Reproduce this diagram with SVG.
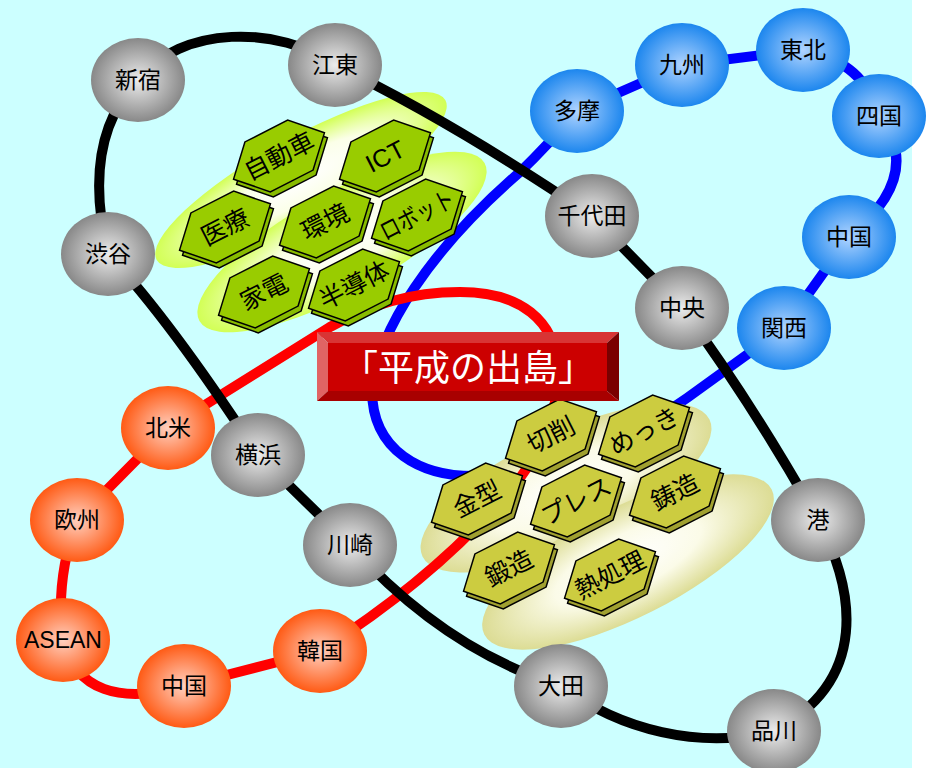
<svg xmlns="http://www.w3.org/2000/svg" xmlns:xlink="http://www.w3.org/1999/xlink" width="928" height="768" viewBox="0 0 928 768">
<style>
.ln{fill:none;stroke-width:10;stroke-linejoin:round;stroke-linecap:round}
.nt{font-family:"Liberation Sans","Noto Sans CJK JP",sans-serif;font-size:23px;fill:#000;text-anchor:middle}
.ht{font-family:"Liberation Sans","Noto Sans CJK JP",sans-serif;font-size:25px;fill:#000;text-anchor:middle}
.gT{fill:#99cc00;stroke:#000;stroke-width:1.5}
.gS{fill:#88bb00;stroke:#000;stroke-width:1.5}
.yT{fill:#cccc40;stroke:#000;stroke-width:1.5}
.yS{fill:#a0a030;stroke:#000;stroke-width:1.5}
.g{fill:url(#gG)}
.b{fill:url(#gB)}
.r{fill:url(#gR)}
</style>
<defs>
<radialGradient id="gG" cx="50%" cy="50%" r="50%"><stop offset="0" stop-color="#ececec"/><stop offset="1" stop-color="#888888"/></radialGradient>
<radialGradient id="gB" cx="50%" cy="50%" r="50%"><stop offset="0" stop-color="#b0d4ff"/><stop offset="1" stop-color="#1c86ee"/></radialGradient>
<radialGradient id="gR" cx="50%" cy="50%" r="50%"><stop offset="0" stop-color="#ffd0c0"/><stop offset="1" stop-color="#ff5a14"/></radialGradient>
<radialGradient id="eG" cx="50%" cy="50%" r="50%"><stop offset="0" stop-color="#ffffff"/><stop offset="0.5" stop-color="#fbffe8"/><stop offset="1" stop-color="#d2ff55"/></radialGradient>
<radialGradient id="eY" cx="50%" cy="50%" r="50%"><stop offset="0" stop-color="#ffffff"/><stop offset="0.5" stop-color="#fbfbe8"/><stop offset="1" stop-color="#dcdc94"/></radialGradient>
<polygon id="hx" points="-51,0 -24,-28 24,-28 51,0 24,28 -24,28" transform="rotate(-27)"/>
</defs>
<rect x="0" y="0" width="928" height="768" fill="#ffffff"/>
<rect x="0" y="0" width="912" height="768" fill="#ccffff"/>

<g id="connectors">
<path id="line-blue" class="ln" stroke="#0000ff" d="M 577 111 L 682 65 L 803 50 Q 865 62 879 116 Q 925 175 849 237 L 784 328 L 687 398 C 620 445 540 474 480 476 C 420 478 372 450 372 390 C 378 330 430 250 520 172 Q 548 145 577 111 Z"/>
</g>

<g id="highlights">
<ellipse cx="301" cy="180" rx="165" ry="42" transform="rotate(-29 301 180)" fill="url(#eG)"/>
<ellipse cx="342" cy="242" rx="163" ry="50" transform="rotate(-29 342 242)" fill="url(#eG)"/>
<ellipse cx="566" cy="488" rx="159" ry="55" transform="rotate(-25.5 566 488)" fill="url(#eY)"/>
<ellipse cx="628" cy="562" rx="161" ry="55" transform="rotate(-26.8 628 562)" fill="url(#eY)"/>
</g>

<g id="connectors2">
<path id="line-red" class="ln" stroke="#ff0000" d="M 320 651 C 400 600 470 540 520 478 C 545 445 560 400 558 370 C 556 320 520 292 460 292 C 410 292 370 305 330 327 L 168 428 L 77 520 Q 55 580 63 640 C 75 690 120 705 184 686 Z"/>
<path id="line-black" class="ln" stroke="#000000" d="M 138 80 C 180 25 280 25 335 65 Q 450 120 592 216 L 682 308 Q 750 400 818 520 C 855 590 870 680 774 731 C 700 750 620 730 561 686 Q 445 650 350 545 L 258 455 Q 170 320 108 254 C 95 200 90 130 138 80 Z"/>
</g>

<g id="hex-jidousha" transform="translate(279,156)"><use xlink:href="#hx" class="gS" x="3" y="5"/><use xlink:href="#hx" class="gT"/><text class="ht" transform="rotate(-27)" y="9">自動車</text></g>
<g id="hex-ict" transform="translate(385,156)"><use xlink:href="#hx" class="gS" x="3" y="5"/><use xlink:href="#hx" class="gT"/><text class="ht" transform="rotate(-27)" y="9">ICT</text></g>
<g id="hex-iryou" transform="translate(225,227)"><use xlink:href="#hx" class="gS" x="3" y="5"/><use xlink:href="#hx" class="gT"/><text class="ht" transform="rotate(-27)" y="9">医療</text></g>
<g id="hex-kankyou" transform="translate(325,222)"><use xlink:href="#hx" class="gS" x="3" y="5"/><use xlink:href="#hx" class="gT"/><text class="ht" transform="rotate(-27)" y="9">環境</text></g>
<g id="hex-robot" transform="translate(417,215)"><use xlink:href="#hx" class="gS" x="3" y="5"/><use xlink:href="#hx" class="gT"/><text class="ht" transform="rotate(-27)" y="9" textLength="80" lengthAdjust="spacingAndGlyphs">ロボット</text></g>
<g id="hex-kaden" transform="translate(264,292)"><use xlink:href="#hx" class="gS" x="3" y="5"/><use xlink:href="#hx" class="gT"/><text class="ht" transform="rotate(-27)" y="9">家電</text></g>
<g id="hex-handoutai" transform="translate(354,285)"><use xlink:href="#hx" class="gS" x="3" y="5"/><use xlink:href="#hx" class="gT"/><text class="ht" transform="rotate(-27)" y="9">半導体</text></g>

<g id="hex-sessaku" transform="translate(551,435)"><use xlink:href="#hx" class="yS" x="3" y="5"/><use xlink:href="#hx" class="yT"/><text class="ht" transform="rotate(-27)" y="9">切削</text></g>
<g id="hex-mekki" transform="translate(644,431)"><use xlink:href="#hx" class="yS" x="3" y="5"/><use xlink:href="#hx" class="yT"/><text class="ht" transform="rotate(-27)" y="9">めっき</text></g>
<g id="hex-kanagata" transform="translate(477,499)"><use xlink:href="#hx" class="yS" x="3" y="5"/><use xlink:href="#hx" class="yT"/><text class="ht" transform="rotate(-27)" y="9">金型</text></g>
<g id="hex-press" transform="translate(576,501)"><use xlink:href="#hx" class="yS" x="3" y="5"/><use xlink:href="#hx" class="yT"/><text class="ht" transform="rotate(-27)" y="9">プレス</text></g>
<g id="hex-chuzou" transform="translate(675,492)"><use xlink:href="#hx" class="yS" x="3" y="5"/><use xlink:href="#hx" class="yT"/><text class="ht" transform="rotate(-27)" y="9">鋳造</text></g>
<g id="hex-tanzou" transform="translate(509,568)"><use xlink:href="#hx" class="yS" x="3" y="5"/><use xlink:href="#hx" class="yT"/><text class="ht" transform="rotate(-27)" y="9">鍛造</text></g>
<g id="hex-netsushori" transform="translate(610,575)"><use xlink:href="#hx" class="yS" x="3" y="5"/><use xlink:href="#hx" class="yT"/><text class="ht" transform="rotate(-27)" y="9">熱処理</text></g>

<g id="n-shinjuku"><ellipse class="g" cx="138" cy="80" rx="47" ry="42"/><text class="nt" x="138" y="88">新宿</text></g>
<g id="n-koutou"><ellipse class="g" cx="335" cy="65" rx="47" ry="42"/><text class="nt" x="335" y="73">江東</text></g>
<g id="n-shibuya"><ellipse class="g" cx="108" cy="254" rx="47" ry="42"/><text class="nt" x="108" y="262">渋谷</text></g>
<g id="n-chiyoda"><ellipse class="g" cx="592" cy="216" rx="47" ry="42"/><text class="nt" x="592" y="224">千代田</text></g>
<g id="n-chuou"><ellipse class="g" cx="682" cy="308" rx="47" ry="42"/><text class="nt" x="682" y="316">中央</text></g>
<g id="n-minato"><ellipse class="g" cx="818" cy="520" rx="47" ry="42"/><text class="nt" x="818" y="528">港</text></g>
<g id="n-shinagawa"><ellipse class="g" cx="774" cy="731" rx="47" ry="42"/><text class="nt" x="774" y="739">品川</text></g>
<g id="n-oota"><ellipse class="g" cx="561" cy="686" rx="47" ry="42"/><text class="nt" x="561" y="694">大田</text></g>
<g id="n-kawasaki"><ellipse class="g" cx="350" cy="545" rx="47" ry="42"/><text class="nt" x="350" y="553">川崎</text></g>
<g id="n-yokohama"><ellipse class="g" cx="258" cy="455" rx="47" ry="42"/><text class="nt" x="258" y="463">横浜</text></g>

<g id="n-tama"><ellipse class="b" cx="577" cy="111" rx="47" ry="42"/><text class="nt" x="577" y="119">多摩</text></g>
<g id="n-kyushu"><ellipse class="b" cx="682" cy="65" rx="47" ry="42"/><text class="nt" x="682" y="73">九州</text></g>
<g id="n-tohoku"><ellipse class="b" cx="803" cy="50" rx="47" ry="42"/><text class="nt" x="803" y="58">東北</text></g>
<g id="n-shikoku"><ellipse class="b" cx="879" cy="116" rx="47" ry="42"/><text class="nt" x="879" y="124">四国</text></g>
<g id="n-chugoku"><ellipse class="b" cx="849" cy="237" rx="47" ry="42"/><text class="nt" x="849" y="245">中国</text></g>
<g id="n-kansai"><ellipse class="b" cx="784" cy="328" rx="47" ry="42"/><text class="nt" x="784" y="336">関西</text></g>

<g id="n-hokubei"><ellipse class="r" cx="168" cy="428" rx="47" ry="42"/><text class="nt" x="168" y="436">北米</text></g>
<g id="n-oushu"><ellipse class="r" cx="77" cy="520" rx="47" ry="42"/><text class="nt" x="77" y="528">欧州</text></g>
<g id="n-asean"><ellipse class="r" cx="63" cy="640" rx="47" ry="42"/><text class="nt" x="63" y="648">ASEAN</text></g>
<g id="n-china"><ellipse class="r" cx="184" cy="686" rx="47" ry="42"/><text class="nt" x="184" y="694">中国</text></g>
<g id="n-korea"><ellipse class="r" cx="320" cy="651" rx="47" ry="42"/><text class="nt" x="320" y="659">韓国</text></g>

<g id="title">
<rect x="328" y="343" width="279" height="48" fill="#cc0000"/>
<polygon points="317,332 619,332 607,343 328,343" fill="#d83434"/>
<polygon points="317,332 328,343 328,391 317,401" fill="#e06464"/>
<polygon points="619,332 619,401 607,391 607,343" fill="#7a0000"/>
<polygon points="317,401 328,391 607,391 619,401" fill="#a80000"/>
<text x="468" y="381" font-family="'Noto Sans CJK JP',sans-serif" font-size="36" fill="#ffffff" text-anchor="middle">「平成の出島」</text>
</g>
</svg>
